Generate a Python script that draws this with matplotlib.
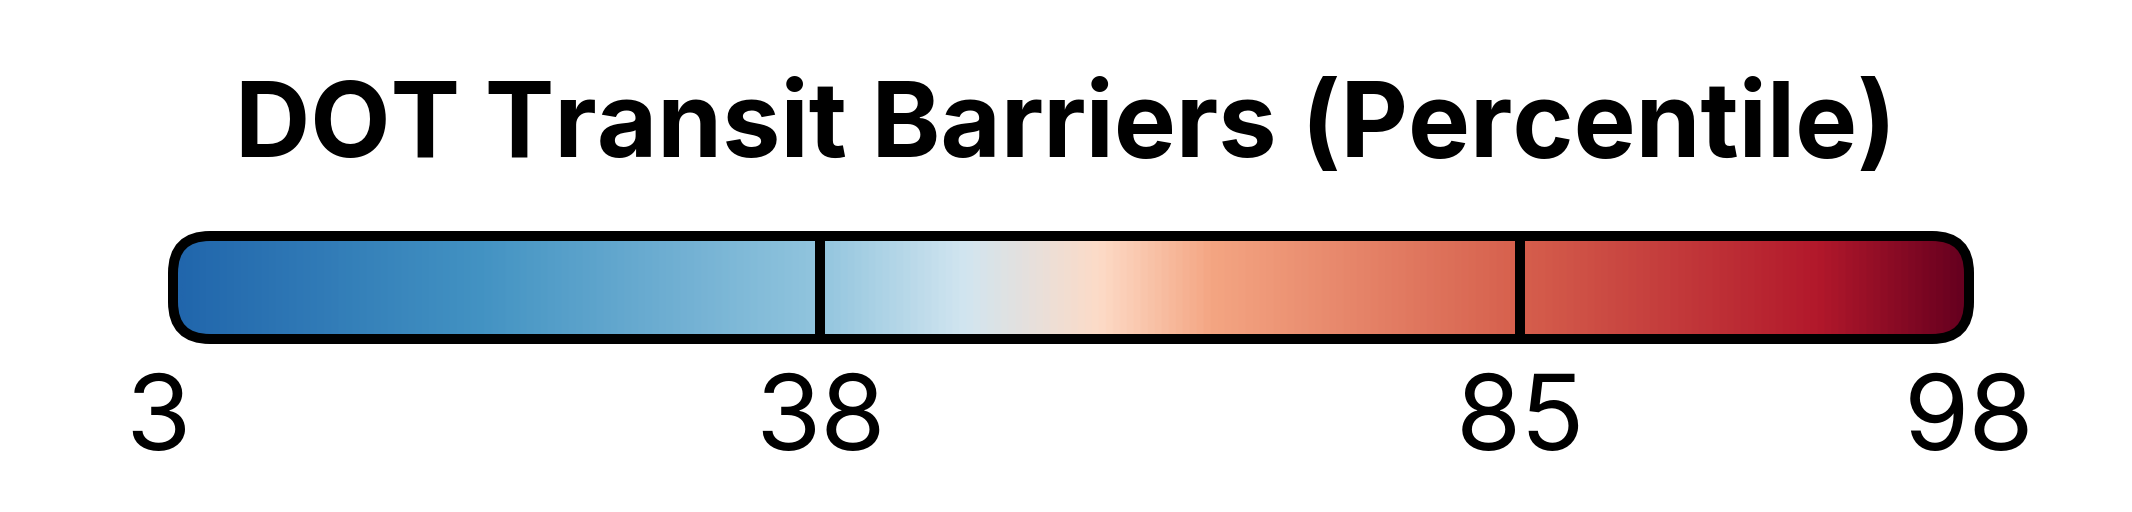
import numpy as np
import matplotlib
matplotlib.use("Agg")
import matplotlib.pyplot as plt
from matplotlib.colors import LinearSegmentedColormap
from matplotlib.patches import FancyBboxPatch

# data
title = "DOT Transit Barriers (Percentile)"
tick_values = [3, 38, 85, 98]
tick_labels = ["3", "38", "85", "98"]
# where each break value sits along the bar (fraction of bar length)
tick_frac = [-0.011, 0.3595, 0.7514, 1.003]
divider_values = [38, 85]

# colour stops of the gradient (fraction along bar, colour)
stop_pos = [0.0, 0.169, 0.359, 0.44, 0.516, 0.58, 0.751, 0.92, 1.0]
stop_col = ["#2166ac", "#4393c3", "#92c5de", "#d1e5f0", "#fddbc7",
            "#f4a582", "#d6604d", "#b2182b", "#67001f"]

plt.rcParams['font.family'] = ['Inter', 'DejaVu Sans']

W, H = 2132, 512
fig = plt.figure(figsize=(W / 100, H / 100), dpi=100)
ax = fig.add_axes([0, 0, 1, 1])
ax.set_xlim(0, W)
ax.set_ylim(0, H)
ax.axis('off')

# bar geometry in pixels (y measured from bottom)
x0, x1 = 178, 1964
y0, y1 = 178, 271
lw_px = 10
frac_of = dict(zip(tick_values, tick_frac))

def xpos(f):
    return x0 + f * (x1 - x0)

cmap = LinearSegmentedColormap.from_list("bar", list(zip(stop_pos, stop_col)))

box = FancyBboxPatch((x0 - lw_px / 2, y0 - lw_px / 2),
                     (x1 - x0) + lw_px, (y1 - y0) + lw_px,
                     boxstyle="round,pad=0,rounding_size=37",
                     facecolor='none', edgecolor='black',
                     linewidth=lw_px * 0.72, zorder=4)
ax.add_patch(box)

grad = np.linspace(0, 1, 1024).reshape(1, -1)
im = ax.imshow(grad, cmap=cmap, aspect='auto',
               extent=[x0, x1, y0 - lw_px / 2, y1 + lw_px / 2],
               interpolation='bilinear', zorder=1)
im.set_clip_path(box)

for v in divider_values:
    xv = xpos(frac_of[v])
    ax.plot([xv, xv], [y0, y1], color='black', lw=lw_px * 0.72,
            solid_capstyle='butt', zorder=3)

for v, lab in zip(tick_values, tick_labels):
    ax.text(xpos(frac_of[v]), H - 450, lab, ha='center', va='baseline',
            fontsize=76, color='black')

ax.text(W / 2, H - 157, title, ha='center', va='baseline',
        fontsize=75, fontweight='bold', color='black')

fig.savefig("out.png", dpi=100)
